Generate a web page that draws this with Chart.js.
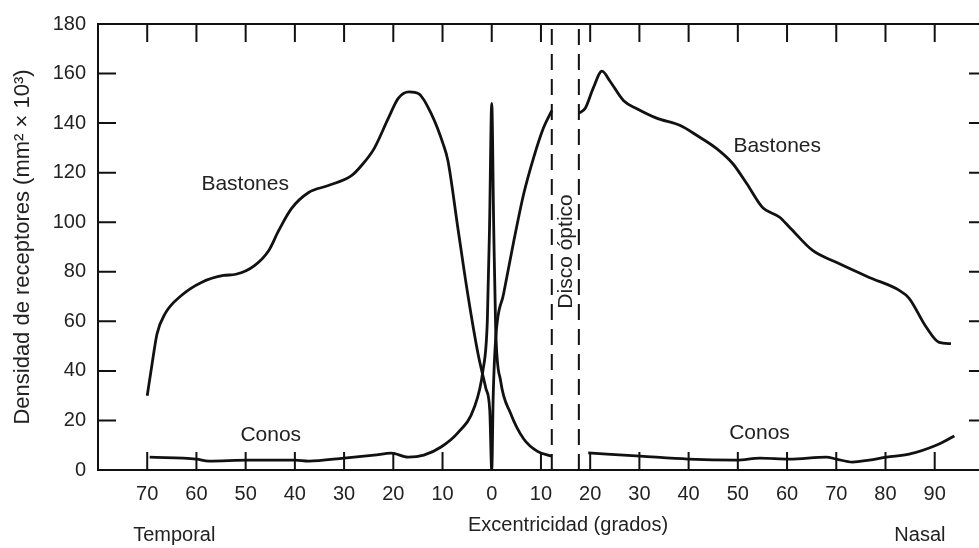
<!DOCTYPE html>
<html>
<head>
<meta charset="utf-8">
<script src="https://cdn.jsdelivr.net/npm/chart.js@4"></script>
<style>
  html, body { margin: 0; padding: 0; background: #fff; overflow: hidden; }
</style>
</head>
<body>
<canvas id="grafico" width="979" height="548"></canvas>
<script>
// Excentricidad en grados: negativo = lado temporal, positivo = lado nasal
const bastonesX = [-70, -69, -68, -66.4, -63, -59, -54.5, -52, -48.2, -45.3, -43.3, -40.7, -37.2, -33.2, -28.5, -26.5, -23.9, -21, -19, -16.8, -14.8, -12.3, -9.9, -8.9, -6.9, -4.9, -2.8, -1.2, -0.4, 0,
                   0.3, 0.8, 2.4, 4.5, 6.5, 8.5, 10.5, 12.2, 15,
                   17.7, 19, 20.6, 22.4, 24, 26.8, 29.5, 33.5, 38.3, 41.7, 45.7, 49, 51.8, 55, 58.5, 60.5, 65.2, 70, 76.7, 82.8, 84.8, 88.3, 90.9, 93.3];
const bastonesY = [30, 43, 55, 63, 70.5, 75.7, 78.5, 79, 82.5, 88.6, 96.6, 105.5, 112, 114.8, 118.8, 122.8, 129.7, 142, 150, 152.6, 151.8, 143.8, 131.7, 124.8, 97.9, 71.3, 47, 33, 24, 0,
                   30, 53, 71, 92.6, 111.5, 126, 138, 145, null,
                   144, 146, 154, 161, 157, 149, 145.8, 142, 139, 135, 129.7, 123.6, 115.6, 106, 102, 98, 88.6, 83.8, 77.7, 72.5, 69.3, 57.6, 51.5, 51];

const conosX = [-69.5, -60, -57.5, -49.4, -40, -37.2, -30, -23.9, -20.4, -17, -13.8, -10.3, -6.9, -3.6, -1.8, -0.9, -0.45, 0,
                0.4, 0.8, 1.8, 3.8, 6.5, 9.3, 12.2, 16,
                19.6, 30.2, 39.9, 49.8, 54.5, 60.5, 68, 70, 73.3, 76.7, 80.2, 84.8, 90.3, 94];
const conosY = [5.2, 4.4, 3.6, 4, 4, 3.6, 4.8, 6, 6.8, 5.2, 6, 9.3, 15, 25, 40, 60, 98, 148,
                98, 57, 36, 23, 12.5, 7.5, 5.6, null,
                6.9, 5.6, 4.4, 4, 4.8, 4.4, 5.2, 4.4, 3.2, 4, 5.2, 6.4, 10, 13.7];

// bordes del disco óptico (grados nasales)
const discoBordes = [12.2, 17.7];

const ticksX = [-70, -60, -50, -40, -30, -20, -10, 0, 10, 20, 30, 40, 50, 60, 70, 80, 90];
const ticksY = [0, 20, 40, 60, 80, 100, 120, 140, 160, 180];

// textos sobre el gráfico, en unidades de datos
const rotulos = [
    { texto: 'Bastones', x: -50.1, y: 115.2 },
    { texto: 'Bastones', x: 58, y: 130.5 },
    { texto: 'Conos', x: -44.9, y: 14.1 },
    { texto: 'Conos', x: 54.4, y: 14.9 },
    { texto: 'Disco óptico', x: 15.1, y: 88.2, rotado: true }
];
const rotulosEje = [
    { texto: 'Temporal', x: -64.5, dy: 65 },
    { texto: 'Excentricidad (grados)', x: 15.5, dy: 55 },
    { texto: 'Nasal', x: 87, dy: 65 }
];

const FUENTE = '"Liberation Sans", Arial, Helvetica, sans-serif';
const NEGRO = '#111';
const TEXTO = '#222';

function puntos(xs, ys) {
    return xs.map((x, i) => ({ x: x, y: ys[i] }));
}

// marcas hacia adentro en los cuatro lados + textos
const marcoPlugin = {
    id: 'marco',
    afterDraw(chart) {
        const ctx = chart.ctx;
        const a = chart.chartArea;
        const sx = chart.scales.x;
        const sy = chart.scales.y;
        const largo = 18;
        ctx.save();
        ctx.strokeStyle = NEGRO;
        ctx.lineWidth = 2;
        // línea superior
        ctx.beginPath();
        ctx.moveTo(a.left, a.top);
        ctx.lineTo(a.right, a.top);
        ctx.stroke();
        ticksX.forEach(v => {
            const px = sx.getPixelForValue(v);
            ctx.beginPath();
            ctx.moveTo(px, a.bottom);
            ctx.lineTo(px, a.bottom - largo);
            ctx.moveTo(px, a.top);
            ctx.lineTo(px, a.top + largo);
            ctx.stroke();
        });
        ticksY.forEach(v => {
            if (v === 0 || v === 180) return;
            const py = sy.getPixelForValue(v);
            ctx.beginPath();
            ctx.moveTo(a.left, py);
            ctx.lineTo(a.left + largo, py);
            ctx.moveTo(a.right, py);
            ctx.lineTo(a.right - 10, py);
            ctx.stroke();
        });

        ctx.fillStyle = TEXTO;
        ctx.textAlign = 'center';
        ctx.textBaseline = 'middle';
        ctx.font = '21px ' + FUENTE;
        rotulos.forEach(r => {
            const px = sx.getPixelForValue(r.x);
            const py = sy.getPixelForValue(r.y);
            if (r.rotado) {
                ctx.save();
                ctx.translate(px, py);
                ctx.rotate(-Math.PI / 2);
                ctx.fillText(r.texto, 0, 0);
                ctx.restore();
            } else {
                ctx.fillText(r.texto, px, py);
            }
        });
        ctx.font = '20px ' + FUENTE;
        rotulosEje.forEach(r => {
            ctx.fillText(r.texto, sx.getPixelForValue(r.x), a.bottom + r.dy);
        });
        ctx.restore();
    }
};

const lineaBase = {
    borderColor: NEGRO,
    borderWidth: 2.8,
    pointRadius: 0,
    fill: false,
    spanGaps: false,
    cubicInterpolationMode: 'monotone'
};

const datasets = [
    Object.assign({ label: 'Bastones', data: puntos(bastonesX, bastonesY) }, lineaBase),
    Object.assign({ label: 'Conos', data: puntos(conosX, conosY) }, lineaBase)
];
discoBordes.forEach(b => {
    datasets.push({
        label: 'Disco',
        data: [{ x: b, y: 0 }, { x: b, y: 180 }],
        borderColor: NEGRO,
        borderWidth: 2,
        borderDash: [16, 9],
        pointRadius: 0,
        tension: 0
    });
});

new Chart(document.getElementById('grafico').getContext('2d'), {
    type: 'line',
    data: { datasets: datasets },
    options: {
        responsive: false,
        animation: false,
        layout: { padding: { top: 23, right: 0, left: 0, bottom: 0 } },
        plugins: {
            legend: { display: false },
            tooltip: { enabled: false }
        },
        scales: {
            x: {
                type: 'linear',
                min: -80,
                max: 99,
                afterBuildTicks: s => { s.ticks = ticksX.map(v => ({ value: v })); },
                afterFit: s => { s.height = 78; },
                grid: { display: false, drawTicks: false },
                border: { display: true, color: NEGRO, width: 2 },
                ticks: {
                    autoSkip: false,
                    maxRotation: 0,
                    padding: 12,
                    color: TEXTO,
                    font: { family: FUENTE, size: 20 },
                    callback: v => Math.abs(v)
                }
            },
            y: {
                min: 0,
                max: 180,
                afterBuildTicks: s => { s.ticks = ticksY.map(v => ({ value: v })); },
                afterFit: s => { s.width = 98; },
                grid: { display: false, drawTicks: false },
                border: { display: true, color: NEGRO, width: 2 },
                ticks: {
                    padding: 12,
                    color: TEXTO,
                    font: { family: FUENTE, size: 20 }
                },
                title: {
                    display: true,
                    text: 'Densidad de receptores (mm² × 10³)',
                    color: TEXTO,
                    font: { family: FUENTE, size: 22 },
                    padding: { top: 10, bottom: 0 }
                }
            }
        }
    },
    plugins: [marcoPlugin]
});
</script>
</body>
</html>
